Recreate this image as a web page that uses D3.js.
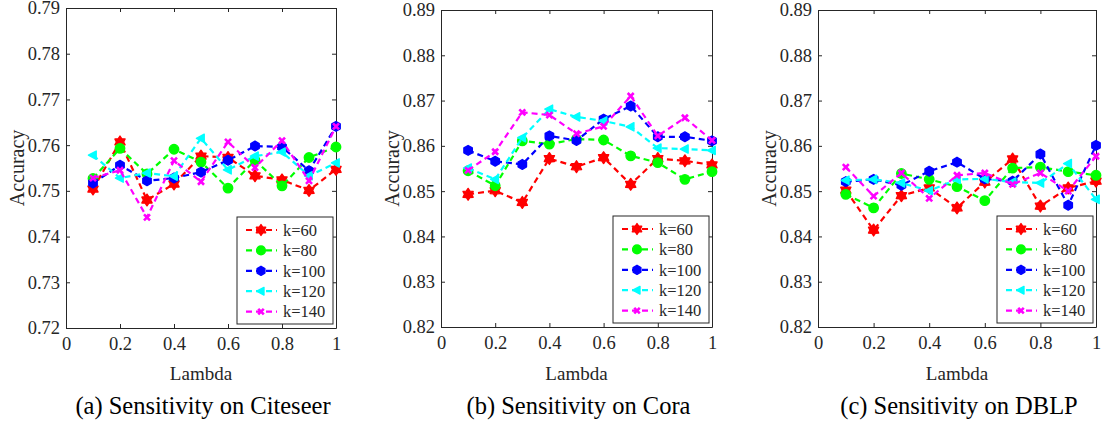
<!DOCTYPE html>
<html>
<head>
<meta charset="utf-8">
<script src="https://cdn.jsdelivr.net/npm/d3@7"></script>
<style>
  body { margin: 0; background: #fff; }
  svg text { font-family: "Liberation Serif", "Times New Roman", Times, serif !important; }
</style>
</head>
<body>
<svg id="chart" width="1102" height="434"></svg>
<script>
var lambdas = [0.1, 0.2, 0.3, 0.4, 0.5, 0.6, 0.7, 0.8, 0.9, 1.0];
var seriesNames = ['k=60', 'k=80', 'k=100', 'k=120', 'k=140'];
var xTicks = [0, 0.2, 0.4, 0.6, 0.8, 1];

// Citeseer
var citeseer60 = [0.7504, 0.7607, 0.7480, 0.7515, 0.7576, 0.7573, 0.7533, 0.7524, 0.7501, 0.7547];
var citeseer80 = [0.7527, 0.7593, 0.7537, 0.7591, 0.7563, 0.7506, 0.7567, 0.7511, 0.7573, 0.7596];
var citeseer100 = [0.7517, 0.7556, 0.7522, 0.7528, 0.7541, 0.7567, 0.7598, 0.7596, 0.7544, 0.7641];
var citeseer120 = [0.7578, 0.7528, 0.7539, 0.7532, 0.7615, 0.7546, 0.7576, 0.7585, 0.7533, 0.7561];
var citeseer140 = [0.7528, 0.7545, 0.7442, 0.7566, 0.7520, 0.7607, 0.7551, 0.7610, 0.7522, 0.7641];
var citeseerTicks = [0.72, 0.73, 0.74, 0.75, 0.76, 0.77, 0.78, 0.79];

// Cora
var cora60 = [0.8493, 0.8501, 0.8475, 0.8572, 0.8554, 0.8574, 0.8515, 0.8572, 0.8567, 0.8558];
var cora80 = [0.8545, 0.8512, 0.8611, 0.8604, 0.8615, 0.8613, 0.8578, 0.8563, 0.8526, 0.8543];
var cora100 = [0.8590, 0.8566, 0.8559, 0.8622, 0.8612, 0.8659, 0.8688, 0.8620, 0.8620, 0.8611];
var cora120 = [0.8551, 0.8526, 0.8618, 0.8681, 0.8664, 0.8655, 0.8642, 0.8595, 0.8593, 0.8590];
var cora140 = [0.8546, 0.8587, 0.8674, 0.8668, 0.8627, 0.8643, 0.8710, 0.8622, 0.8662, 0.8612];
var coraTicks = [0.82, 0.83, 0.84, 0.85, 0.86, 0.87, 0.88, 0.89];

// DBLP
var dblp60 = [0.8502, 0.8414, 0.8490, 0.8507, 0.8463, 0.8520, 0.8571, 0.8467, 0.8507, 0.8522];
var dblp80 = [0.8493, 0.8463, 0.8539, 0.8526, 0.8510, 0.8479, 0.8551, 0.8553, 0.8543, 0.8535];
var dblp100 = [0.8521, 0.8526, 0.8513, 0.8544, 0.8564, 0.8527, 0.8522, 0.8582, 0.8469, 0.8601];
var dblp120 = [0.8524, 0.8526, 0.8518, 0.8501, 0.8526, 0.8527, 0.8520, 0.8518, 0.8561, 0.8482];
var dblp140 = [0.8553, 0.8489, 0.8540, 0.8484, 0.8535, 0.8540, 0.8515, 0.8540, 0.8500, 0.8577];
var dblpTicks = [0.82, 0.83, 0.84, 0.85, 0.86, 0.87, 0.88, 0.89];

var titles = ['(a) Sensitivity on Citeseer', '(b) Sensitivity on Cora', '(c) Sensitivity on DBLP'];

var colors = ['#ff0000', '#00ff00', '#0000ff', '#00ffff', '#ff00ff'];

// custom marker shapes
var symHexagram = {
  draw: function (ctx, size) {
    var r = Math.sqrt(size) * 0.7, ri = r * 0.62;
    for (var i = 0; i < 12; i++) {
      var a = -Math.PI / 2 + i * Math.PI / 6;
      var rr = i % 2 ? ri : r;
      if (i === 0) ctx.moveTo(rr * Math.cos(a), rr * Math.sin(a));
      else ctx.lineTo(rr * Math.cos(a), rr * Math.sin(a));
    }
    ctx.closePath();
  }
};
var symHexagon = {
  draw: function (ctx, size) {
    var r = Math.sqrt(size) * 0.58;
    for (var i = 0; i < 6; i++) {
      var a = -Math.PI / 2 + i * Math.PI / 3;
      if (i === 0) ctx.moveTo(r * Math.cos(a), r * Math.sin(a));
      else ctx.lineTo(r * Math.cos(a), r * Math.sin(a));
    }
    ctx.closePath();
  }
};
var symTriLeft = {
  draw: function (ctx, size) {
    var r = Math.sqrt(size) * 0.55;
    ctx.moveTo(-r, 0);
    ctx.lineTo(r * 0.7, -r * 0.9);
    ctx.lineTo(r * 0.7, r * 0.9);
    ctx.closePath();
  }
};
var symX = {
  draw: function (ctx, size) {
    var r = Math.sqrt(size) * 0.36;
    ctx.moveTo(-r, -r); ctx.lineTo(r, r);
    ctx.moveTo(-r, r); ctx.lineTo(r, -r);
  }
};
var symbols = [symHexagram, d3.symbolCircle, symHexagon, symTriLeft, symX];

var panels = [
  { series: [citeseer60, citeseer80, citeseer100, citeseer120, citeseer140], ticks: citeseerTicks,
    left: 66, right: 336, top: 8, bottom: 328, labelX: 17 },
  { series: [cora60, cora80, cora100, cora120, cora140], ticks: coraTicks,
    left: 441, right: 712, top: 10, bottom: 327, labelX: 392 },
  { series: [dblp60, dblp80, dblp100, dblp120, dblp140], ticks: dblpTicks,
    left: 818, right: 1096, top: 10, bottom: 327, labelX: 769 }
];

var svg = d3.select('#chart');
var axisColor = '#262626';

panels.forEach(function (p, pi) {
  var x = d3.scaleLinear().domain([0, 1]).range([p.left, p.right]);
  var y = d3.scaleLinear().domain([p.ticks[0], p.ticks[p.ticks.length - 1]]).range([p.bottom, p.top]);
  var g = svg.append('g');

  // box axes with inward ticks
  var bottomAxis = d3.axisBottom(x).tickValues(xTicks).tickFormat(d3.format('~g'))
    .tickSizeInner(-4).tickSizeOuter(0).tickPadding(9);
  var leftAxis = d3.axisLeft(y).tickValues(p.ticks).tickFormat(d3.format('.2f'))
    .tickSizeInner(-4).tickSizeOuter(0).tickPadding(6);
  var topAxis = d3.axisTop(x).tickValues(xTicks).tickFormat('').tickSizeInner(-4).tickSizeOuter(0);
  var rightAxis = d3.axisRight(y).tickValues(p.ticks).tickFormat('').tickSizeInner(-4).tickSizeOuter(0);

  var ab = g.append('g').attr('transform', 'translate(0,' + p.bottom + ')').call(bottomAxis);
  var al = g.append('g').attr('transform', 'translate(' + p.left + ',0)').call(leftAxis);
  var at = g.append('g').attr('transform', 'translate(0,' + p.top + ')').call(topAxis);
  var ar = g.append('g').attr('transform', 'translate(' + p.right + ',0)').call(rightAxis);
  [ab, al, at, ar].forEach(function (a) {
    a.attr('font-family', null).attr('font-size', null);
    a.selectAll('path, line').attr('stroke', axisColor).attr('stroke-width', 1);
    a.selectAll('text').style('font-size', '18.5px').attr('fill', axisColor);
  });

  // axis labels
  g.append('text').attr('x', (p.left + p.right) / 2).attr('y', 380)
    .attr('text-anchor', 'middle').style('font-size', '19px').attr('fill', axisColor).text('Lambda');
  g.append('text').attr('transform', 'translate(' + p.labelX + ',' + (p.top + p.bottom) / 2 + ') rotate(-90)')
    .attr('dy', '0.35em').attr('text-anchor', 'middle').style('font-size', '20px').attr('fill', axisColor).text('Accuracy');

  // title
  svg.append('text').attr('x', (p.left + p.right) / 2 + 2).attr('y', 414)
    .attr('text-anchor', 'middle').style('font-size', '24.5px').attr('fill', '#000').text(titles[pi]);

  // series
  var line = d3.line().x(function (d, i) { return x(lambdas[i]); }).y(function (d) { return y(d); });
  p.series.forEach(function (vals, si) {
    g.append('path').datum(vals).attr('d', line).attr('fill', 'none')
      .attr('stroke', colors[si]).attr('stroke-width', 2.2).attr('stroke-dasharray', '6,4');
    var sym = d3.symbol().type(symbols[si]).size(70);
    g.selectAll('.m' + si).data(vals).enter().append('path')
      .attr('class', 'm' + si)
      .attr('transform', function (d, i) { return 'translate(' + x(lambdas[i]) + ',' + y(d) + ')'; })
      .attr('d', sym)
      .attr('fill', si === 4 ? 'none' : colors[si])
      .attr('stroke', colors[si])
      .attr('stroke-width', si === 4 ? 2.6 : 1.4)
      .attr('stroke-linejoin', 'round');
  });

  // legend
  var lw = 96, lh = 107;
  var lx = p.right - 3 - lw, ly = p.bottom - 4 - lh;
  var lg = g.append('g').attr('transform', 'translate(' + lx + ',' + ly + ')');
  lg.append('rect').attr('width', lw).attr('height', lh).attr('fill', '#fff')
    .attr('stroke', axisColor).attr('stroke-width', 1);
  seriesNames.forEach(function (name, si) {
    var yy = 13 + si * 20.4;
    lg.append('line').attr('x1', 8).attr('x2', 40).attr('y1', yy).attr('y2', yy)
      .attr('stroke', colors[si]).attr('stroke-width', 2.2).attr('stroke-dasharray', '6,4')
      .attr('stroke-dashoffset', -1);
    lg.append('path').attr('transform', 'translate(24,' + yy + ')')
      .attr('d', d3.symbol().type(symbols[si]).size(60))
      .attr('fill', si === 4 ? 'none' : colors[si]).attr('stroke', colors[si])
      .attr('stroke-width', si === 4 ? 2.6 : 1.4).attr('stroke-linejoin', 'round');
    lg.append('text').attr('x', 46).attr('y', yy).attr('dy', '0.35em')
      .style('font-size', '16.5px').attr('fill', axisColor).text(name);
  });
});
</script>
</body>
</html>
